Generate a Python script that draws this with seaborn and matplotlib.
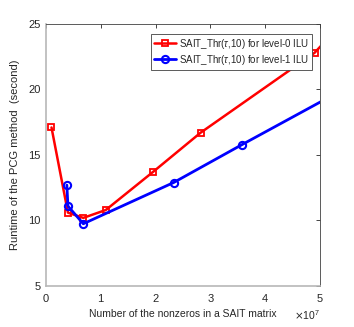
import matplotlib
matplotlib.use("Agg")
import matplotlib.pyplot as plt
import seaborn as sns
import numpy as np
import pandas as pd

# runtime of PCG vs number of nonzeros in the SAIT matrix
nnz_level0 = [0.10e7, 0.40e7, 0.68e7, 1.09e7, 1.95e7, 2.82e7, 4.90e7, 5.30e7]
time_level0 = [17.1, 10.6, 10.2, 10.8, 13.7, 16.7, 22.8, 24.6]
nnz_level1 = [0.38e7, 0.40e7, 0.68e7, 2.33e7, 3.58e7, 5.60e7]
time_level1 = [12.7, 11.1, 9.75, 12.9, 15.8, 20.4]
labels = [r"SAIT_Thr($\tau$,10) for level-0 ILU", r"SAIT_Thr($\tau$,10) for level-1 ILU"]

sns.set_style("white")
plt.rcParams['font.family'] = ['Liberation Sans', 'DejaVu Sans']
plt.rcParams['mathtext.fontset'] = 'custom'
plt.rcParams['mathtext.it'] = 'Liberation Sans:italic'

df0 = pd.DataFrame({'nnz': nnz_level0, 'time': time_level0})
df1 = pd.DataFrame({'nnz': nnz_level1, 'time': time_level1})

fig = plt.figure(figsize=(3.54, 3.27), dpi=100)
ax = fig.add_axes([0.130, 0.1254, 0.774, 0.8012])

sns.lineplot(data=df0, x='nnz', y='time', ax=ax, color='#ff0000', lw=1.8,
             marker='s', markersize=4.3, markerfacecolor='none', markeredgecolor='#ff0000',
             markeredgewidth=1.3, estimator=None, sort=False, label=labels[0])
sns.lineplot(data=df1, x='nnz', y='time', ax=ax, color='#0000ff', lw=2.0,
             marker='o', markersize=5.2, markerfacecolor='none', markeredgecolor='#0000ff',
             markeredgewidth=1.5, estimator=None, sort=False, label=labels[1])

ax.set_xlim(0, 5e7)
ax.set_ylim(5, 25)
ax.set_xticks([0, 1e7, 2e7, 3e7, 4e7, 5e7])
ax.set_yticks([5, 10, 15, 20, 25])
ax.ticklabel_format(axis='x', style='sci', scilimits=(7, 7), useMathText=True)
ax.xaxis.get_offset_text().set_fontsize(7.5)
ax.xaxis.get_offset_text().set_color('#262626')

ax.tick_params(direction='in', length=3, width=0.6, labelsize=8, colors='#262626',
               top=True, right=True, pad=4)
for name, s in ax.spines.items():
    if name in ('left', 'bottom'):
        s.set_linewidth(1.2)
        s.set_color('#b8b8b8')
    else:
        s.set_linewidth(0.6)
        s.set_color('#404040')

ax.set_xlabel("Number of the nonzeros in a SAIT matrix", fontsize=7.5, color='#262626', labelpad=4)
ax.set_ylabel("Runtime of the PCG method  (second)", fontsize=8, color='#262626', labelpad=6)

leg = ax.legend(loc='upper right', bbox_to_anchor=(0.971, 0.962), fontsize=7,
                fancybox=False, framealpha=1, edgecolor='#404040', handlelength=2.3,
                borderpad=0.3, labelspacing=0.2, handletextpad=0.3, borderaxespad=0)
leg.get_frame().set_linewidth(0.6)

fig.savefig("out.png", dpi=100)
